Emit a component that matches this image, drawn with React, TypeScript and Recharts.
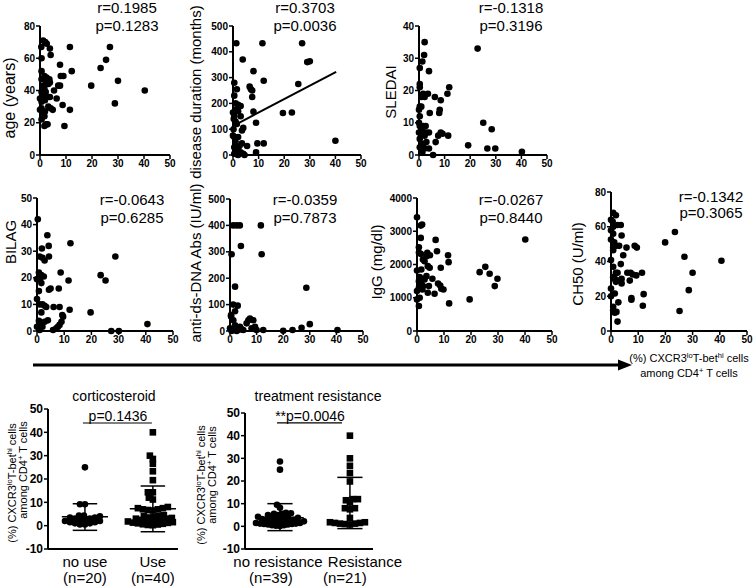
import React from 'react';
import { ScatterChart, Scatter, XAxis, YAxis, ReferenceLine } from 'recharts';

const FONT = "'Liberation Sans', Arial, Helvetica, sans-serif";

const xTicks = [0, 10, 20, 30, 40, 50];

// x = (%) CXCR3lo T-bethi cells among CD4+ T cells, y = clinical value
const agePts: [number, number][] = [
  [0.5, 67], [1.2, 71], [2, 70], [2.6, 69], [3.8, 66], [4.1, 62], [0.6, 60], [7.7, 56], [11.5, 67], [12.2, 52],
  [8, 49], [9, 49], [0.6, 52], [0.6, 47], [1.7, 49], [2.5, 48], [3.6, 47], [3.8, 45], [3.2, 44], [2.5, 45],
  [7, 43], [7.7, 43], [5.4, 40], [1.3, 43], [1.7, 41], [0.6, 39], [2.2, 39], [1.3, 36], [0, 35], [2.5, 36],
  [3.8, 36], [6.4, 35], [1.9, 34], [0.6, 33], [3.2, 30], [4.1, 29], [4.9, 28], [8.7, 31], [0.6, 29], [1.9, 27],
  [11.5, 28], [0, 28], [1.3, 26], [1.7, 24], [0.6, 22], [2.3, 19], [2.9, 19], [1.7, 18], [9.4, 18], [19.7, 43],
  [23.3, 54], [25.4, 59], [26.9, 67], [30, 46], [28.8, 32], [40.3, 40],
];

const durationPts: [number, number][] = [
  [1.3, 433], [11.5, 433], [27, 433], [3.8, 370], [29, 360], [30, 363], [8, 325], [12, 288], [1.5, 255], [0.5, 280],
  [6.5, 265], [7, 255], [7.5, 250], [7.5, 225], [25.5, 275], [0.5, 230], [1, 200], [2, 195], [3, 190], [1, 175],
  [0, 165], [2, 170], [8, 168], [19.5, 163], [23, 165], [0.5, 150], [3, 150], [0.3, 140], [1, 130], [9, 125],
  [1.5, 120], [4, 105], [3.5, 95], [0, 75], [0.5, 70], [2, 70], [1, 50], [3.5, 45], [5.5, 35], [9.5, 45],
  [12, 45], [40, 55], [0.5, 30], [2, 30], [1, 20], [1.5, 15], [3, 10], [4, 5], [9, 10], [0.5, 5],
  [1.5, 3], [2, 0], [4.5, 0], [0.2, 100], [2.5, 35],
];
const durationTrend = [{ x: 0.5, y: 115 }, { x: 40.3, y: 322 }];

const sledaiPts: [number, number][] = [
  [2.2, 35], [2, 31], [1.3, 29], [0.3, 27], [3.9, 26], [22.9, 33], [0.3, 22], [0.3, 21], [11.8, 21], [11.1, 19],
  [3.5, 19], [1.6, 19], [0.9, 18], [2.2, 18], [6.2, 18], [8.5, 17], [0.3, 15], [0.9, 15], [8.1, 14], [7.9, 13],
  [4.2, 13], [0, 14], [0.3, 12], [0, 10], [25.1, 10], [28.4, 8], [0.3, 9], [1.6, 9], [2.6, 9], [1.3, 8],
  [0, 7], [2.9, 7], [3.9, 7], [0.9, 6.6], [2.2, 6], [8.5, 7], [9.2, 6.6], [7.5, 6], [11.4, 6], [0.3, 5],
  [6.5, 4], [2.9, 4], [1.6, 3.4], [0.3, 2.4], [2.2, 2], [3.9, 2], [19.2, 3], [26.7, 2], [29.8, 2], [40.2, 1],
  [5.5, 0], [1.3, 0.8],
];

const bilagPts: [number, number][] = [
  [0.3, 42], [3.8, 36], [1.8, 31], [4.3, 32], [12.3, 33], [1, 28], [2, 27.5], [2.8, 26.5], [4.4, 28], [0.7, 22],
  [8.7, 22], [11.6, 19], [23.4, 21], [25.2, 19], [28.8, 28], [1.6, 21], [2.5, 20.5], [1, 19.5], [0, 19.5], [1.6, 18],
  [4.4, 15.5], [5, 16], [8, 16], [0.7, 15], [0, 12], [2, 10], [2.8, 9.5], [3.4, 9], [6.1, 9], [8.3, 9],
  [1, 10], [1.6, 7], [12, 8], [9.3, 6], [19.7, 7], [0.7, 3.8], [1.6, 3], [2.8, 3.5], [4, 4], [2, 1.6],
  [0, 1.6], [5.9, 0.4], [7.1, 1], [7.7, 1.6], [8.3, 2.3], [9, 3.5], [9.6, 5.4], [27.3, 0], [30.1, 0], [40.6, 2.6],
  [1, 0.4],
];

const dnaPts: [number, number][] = [
  [1.2, 400], [2.5, 400], [3.7, 400], [11.6, 400], [4.1, 322], [0.6, 291], [11.9, 291], [1.9, 168], [28.7, 164], [1.2, 100],
  [2.9, 96], [1.9, 75], [0.4, 55], [0.4, 60], [1.25, 41], [1.9, 22], [0, 10], [3, 4], [3.75, 16], [6.25, 29],
  [6.9, 41], [7.5, 47], [8.75, 41], [9.4, 16], [5, 4], [8.1, 10], [12.5, 4], [20, 1], [23.5, 4], [26.9, 12],
  [30, 26], [40.4, 4], [1.25, 6], [0.6, 0], [2.5, 0], [4.4, 6], [10, 4],
];

const iggPts: [number, number][] = [
  [0, 3420], [1.4, 3170], [1.9, 3200], [1.4, 2800], [6.9, 2740], [40.1, 2750], [0.7, 2520], [1.4, 2320], [0.7, 2350], [3.8, 2350],
  [3.5, 2250], [4.8, 2280], [7.4, 2400], [11.5, 2280], [11.7, 2070], [2.2, 2150], [2.8, 2100], [4, 1950], [4.7, 1900], [8.8, 1900],
  [0, 1820], [1.6, 1850], [23.2, 1770], [25.3, 1930], [26.9, 1720], [29.8, 1570], [28.8, 1350], [1, 1620], [2.2, 1570], [3.5, 1650],
  [5.7, 1570], [0.7, 1500], [1.6, 1420], [2.8, 1550], [7.8, 1430], [8.6, 1370], [9, 1270], [9.8, 1250], [0.7, 1300], [2, 1250],
  [4, 1150], [6.5, 1120], [1, 1000], [0, 950], [19.5, 950], [11.9, 830], [0.7, 750], [2.2, 1350], [0, 1200], [4.4, 1350],
];

const ch50Pts: [number, number][] = [
  [0.8, 68], [1.8, 66.6], [0, 64], [0.6, 63], [2.4, 61], [3.6, 61], [0.8, 60], [0, 58], [0.8, 56], [3.9, 55],
  [0, 52.6], [1.2, 51], [0.8, 48], [1.8, 49], [5.7, 48], [8.7, 49], [9.5, 48], [3, 49], [0.8, 46.5], [4.5, 43.6],
  [19.9, 51], [23.5, 57], [27, 42.7], [40.6, 40.4], [0, 40.8], [3.6, 38.5], [0.8, 37], [1.8, 33.5], [2.4, 33.5], [6, 33.5],
  [7.2, 33.5], [11.4, 33.5], [8, 32.5], [9.3, 32], [30, 33.5], [0.8, 31], [1.4, 30], [3.9, 30], [3, 29], [6.9, 29],
  [3.9, 27.4], [1.8, 28.3], [0, 24.5], [28.6, 23.5], [1.4, 21.6], [12, 21.2], [0, 20], [7.5, 19], [7.5, 18], [11.7, 14.5],
  [2.7, 16.5], [0.8, 12], [1.4, 10.5], [2, 11], [25.2, 11.5], [2.4, 5.4], [0.8, 14],
];

// corticosteroid groups
const noUseVals = [25, 9.2, 9.2, 4.3, 4.3, 4, 3.5, 3.5, 3, 3, 2.5, 2.5, 2, 2, 1.5, 1.5, 1, 1, 0.5, 0.5];
const useVals = [
  40, 30, 28.6, 26.5, 23.3, 19.5, 14.3, 14.3, 12, 11.2, 8, 7.5, 7.5, 7, 7, 6.7, 6.5, 4.5, 4.2, 4,
  3.8, 3.5, 3.3, 3, 3, 2.7, 2.5, 2.3, 2, 2, 1.8, 1.5, 1.3, 1.2, 1, 0.8, 0.6, 0.5, 0.3, 0.2,
];
const steroidStats = [
  { mean: 3.8, lo: -2, hi: 9.4 },
  { mean: 7.2, lo: -2.6, hi: 17 },
];

// treatment resistance groups
const noResVals = [
  28.6, 25, 9.5, 8.2, 6, 5.8, 5.5, 5.5, 5, 5, 4.5, 4.2, 4, 4, 3.8, 3.5, 3.5, 3.2, 3, 3,
  2.8, 2.5, 2.5, 2.2, 2, 2, 1.8, 1.5, 1.5, 1.2, 1.2, 1, 1, 0.8, 0.8, 0.5, 0.5, 0.3, 0.2,
];
const resVals = [40, 30, 26.7, 23.5, 19.8, 12, 12, 11.5, 10.5, 8, 8, 7.5, 3.7, 1.8, 1.8, 1.5, 1.5, 1.2, 1.2, 1, 0.8];
const resistStats = [
  { mean: 3.8, lo: -1.9, hi: 10 },
  { mean: 10.3, lo: -1, hi: 21.6 },
];

const dotTicks = [-10, 0, 10, 20, 30, 40, 50];

const Dot = (p: any) => <circle cx={p.cx} cy={p.cy} r={3.3} fill="#000" />;
const Sq = (p: any) => <rect x={p.cx - 3.3} y={p.cy - 3.3} width={6.6} height={6.6} fill="#000" />;

// column scatter layout: each point goes to the nearest free spot beside the column centre
function swarm(values: number[], center: number, pxPerY: number, pxPerX: number, gap: number) {
  const sorted = [...values].sort((a, b) => a - b);
  const placed: { px: number; py: number }[] = [];
  return sorted.map((v) => {
    const py = v * pxPerY;
    let best = 0;
    for (let k = 0; k < 400; k++) {
      const off = k === 0 ? 0 : k % 2 ? -(k + 1) / 2 : k / 2;
      if (placed.every((p) => (p.px - off) ** 2 + (p.py - py) ** 2 >= gap * gap)) {
        best = off;
        break;
      }
    }
    placed.push({ px: best, py });
    return { x: center + best / pxPerX, y: v };
  });
}

const axisProps = {
  axisLine: { stroke: '#000', strokeWidth: 2 },
  tickLine: { stroke: '#000', strokeWidth: 1.5 },
  tickSize: 4,
  interval: 0 as const,
};

function ScatterPanel({ pts, x0, x1, yTop, yBot, yTicks, trend }: any) {
  const data = pts.map(([x, y]: [number, number]) => ({ x, y }));
  const padL = 40, padT = 8, padR = 10, padB = 20;
  return (
    <div style={{ position: 'absolute', left: x0 - padL, top: yTop - padT }}>
      <ScatterChart
        width={x1 - x0 + padL + padR}
        height={yBot - yTop + padT + padB}
        margin={{ top: padT, right: padR, bottom: 0, left: 0 }}
      >
        <XAxis
          type="number" dataKey="x" domain={[0, 50]} ticks={xTicks} height={padB}
          tick={{ fontSize: 10, fontWeight: 'bold', fill: '#000', fontFamily: FONT }}
          tickMargin={1} {...axisProps}
        />
        <YAxis
          type="number" dataKey="y" domain={[yTicks[0], yTicks[yTicks.length - 1]]} ticks={yTicks} width={padL}
          tick={{ fontSize: 10, fontWeight: 'bold', fill: '#000', fontFamily: FONT }}
          tickMargin={1} {...axisProps}
        />
        <Scatter data={data} shape={Dot} isAnimationActive={false} />
        {trend && <ReferenceLine segment={trend} stroke="#000" strokeWidth={2} />}
      </ScatterChart>
    </div>
  );
}

function GroupPanel({ x0, x1, yTop, yBot, xDomain, groups, stats, labels, sig }: any) {
  const padL = 40, padT = 8, padB = 40, padR = 50;
  const catTick = (p: any) => {
    const lab = labels[p.payload.value - 1];
    return (
      <text x={p.x + lab.dx} y={p.y} textAnchor="middle" fontSize={15} fontFamily={FONT} fill="#000">
        <tspan x={p.x + lab.dx} dy={18}>{lab.name}</tspan>
        <tspan x={p.x + lab.ndx} dy={16}>{lab.n}</tspan>
      </text>
    );
  };
  return (
    <div style={{ position: 'absolute', left: x0 - padL, top: yTop - padT }}>
      <ScatterChart
        width={x1 - x0 + padL + padR}
        height={yBot - yTop + padT + padB}
        margin={{ top: padT, right: padR, bottom: 0, left: 0 }}
      >
        <XAxis
          type="number" dataKey="x" domain={xDomain} ticks={[1, 2]} height={padB}
          tick={catTick} tickLine={false} tickSize={0} tickMargin={0} interval={0}
          axisLine={{ stroke: '#000', strokeWidth: 2 }}
        />
        <YAxis
          type="number" dataKey="y" domain={[-10, 50]} ticks={dotTicks} width={padL}
          tick={{ fontSize: 12, fontWeight: 'bold', fill: '#000', fontFamily: FONT }}
          tickMargin={1} {...axisProps}
        />
        {groups.map((g: any, i: number) => (
          <Scatter key={i} data={g.data} shape={g.shape} isAnimationActive={false} />
        ))}
        {stats.map((s: any, i: number) => {
          const c = i + 1;
          return (
            <React.Fragment key={'s' + i}>
              <ReferenceLine segment={[{ x: c - 0.34, y: s.mean }, { x: c + 0.34, y: s.mean }]} stroke="#000" strokeWidth={1.5} />
              <ReferenceLine segment={[{ x: c, y: s.lo }, { x: c, y: s.hi }]} stroke="#000" strokeWidth={1.5} />
              <ReferenceLine segment={[{ x: c - 0.18, y: s.hi }, { x: c + 0.18, y: s.hi }]} stroke="#000" strokeWidth={1.5} />
              <ReferenceLine segment={[{ x: c - 0.18, y: s.lo }, { x: c + 0.18, y: s.lo }]} stroke="#000" strokeWidth={1.5} />
            </React.Fragment>
          );
        })}
        <ReferenceLine segment={[{ x: sig.x1, y: sig.y }, { x: sig.x2, y: sig.y }]} stroke="#000" strokeWidth={1.2} />
      </ScatterChart>
    </div>
  );
}

const VText = ({ x, y, size = 15, children }: any) => (
  <text transform={`translate(${x},${y}) rotate(-90)`} textAnchor="middle" fontSize={size} fontFamily={FONT} fill="#000">
    {children}
  </text>
);

const Sup = ({ children }: any) => (
  <tspan baselineShift="super" fontSize={7.5}>{children}</tspan>
);

const T = ({ x, y, size = 15, children }: any) => (
  <text x={x} y={y} textAnchor="middle" fontSize={size} fontFamily={FONT} fill="#000">{children}</text>
);

export default function App() {
  return (
    <div style={{ position: 'absolute', left: 0, top: 0, width: 756, height: 588, background: '#fff', fontFamily: FONT }}>
      <ScatterPanel pts={agePts} x0={40} x1={170} yTop={26} yBot={155} yTicks={[0, 20, 40, 60, 80]} />
      <ScatterPanel pts={durationPts} x0={233} x1={361} yTop={26} yBot={155} yTicks={[0, 100, 200, 300, 400, 500]} trend={durationTrend} />
      <ScatterPanel pts={sledaiPts} x0={419} x1={547} yTop={26} yBot={155} yTicks={[0, 10, 20, 30, 40]} />

      <ScatterPanel pts={bilagPts} x0={37} x1={173} yTop={198} yBot={331} yTicks={[0, 10, 20, 30, 40, 50]} />
      <ScatterPanel pts={dnaPts} x0={230} x1={363} yTop={199} yBot={331} yTicks={[0, 100, 200, 300, 400, 500]} />
      <ScatterPanel pts={iggPts} x0={417} x1={552} yTop={198} yBot={331} yTicks={[0, 1000, 2000, 3000, 4000]} />
      <ScatterPanel pts={ch50Pts} x0={611} x1={747} yTop={192} yBot={331} yTicks={[0, 20, 40, 60, 80]} />

      <GroupPanel
        x0={48} x1={178} yTop={409} yBot={549} xDomain={[0.456, 2.37]}
        groups={[
          { data: swarm(noUseVals, 1, 2.333, 68, 4.3), shape: Dot },
          { data: swarm(useVals, 2, 2.333, 68, 4.3), shape: Sq },
        ]}
        stats={steroidStats}
        labels={[{ name: 'no use', n: '(n=20)', dx: 0, ndx: 0 }, { name: 'Use', n: '(n=40)', dx: 0, ndx: 0 }]}
        sig={{ x1: 0.97, x2: 1.985, y: 44 }}
      />
      <GroupPanel
        x0={245} x1={373} yTop={413} yBot={549} xDomain={[0.5, 2.33]}
        groups={[
          { data: swarm(noResVals, 1, 2.267, 70, 3.8), shape: Dot },
          { data: swarm(resVals, 2, 2.267, 70, 4.3), shape: Sq },
        ]}
        stats={resistStats}
        labels={[{ name: 'no resistance', n: '(n=39)', dx: -2, ndx: -9 }, { name: 'Resistance', n: '(n=21)', dx: 15, ndx: -5 }]}
        sig={{ x1: 0.957, x2: 1.886, y: 45.6 }}
      />

      <svg width={756} height={588} style={{ position: 'absolute', left: 0, top: 0, pointerEvents: 'none' }}>
        <T x={127} y={13}>r=0.1985</T>
        <T x={127} y={31}>p=0.1283</T>
        <T x={305} y={13}>r=0.3703</T>
        <T x={305} y={31}>p=0.0036</T>
        <T x={511} y={13}>r=-0.1318</T>
        <T x={511} y={31}>p=0.3196</T>
        <T x={132} y={205}>r=-0.0643</T>
        <T x={132} y={223}>p=0.6285</T>
        <T x={305} y={205}>r=-0.0359</T>
        <T x={305} y={223}>p=0.7873</T>
        <T x={511} y={205}>r=-0.0267</T>
        <T x={511} y={223}>p=0.8440</T>
        <T x={711} y={202}>r=-0.1342</T>
        <T x={711} y={218}>p=0.3065</T>

        <VText x={15} y={98} size={16}>age (years)</VText>
        <VText x={201} y={92}>disease duration (months)</VText>
        <VText x={396} y={92}>SLEDAI</VText>
        <VText x={16} y={242}>BILAG</VText>
        <VText x={201} y={263}>anti-ds-DNA Abs (IU/ml)</VText>
        <VText x={382} y={262}>IgG (mg/dl)</VText>
        <VText x={583} y={264}>CH50 (U/ml)</VText>

        <line x1={33} y1={365} x2={620} y2={365} stroke="#000" strokeWidth={3} />
        <polygon points="618,359.5 632,365 618,370.5" fill="#000" />
        <T x={689} y={362} size={11}>(%) CXCR3<Sup>lo</Sup>T-bet<Sup>hi</Sup> cells</T>
        <T x={689} y={377} size={11}>among CD4<Sup>+</Sup> T cells</T>

        <T x={114} y={401} size={14}>corticosteroid</T>
        <T x={118} y={421} size={14}>p=0.1436</T>
        <T x={318} y={401} size={14}>treatment resistance</T>
        <T x={310} y={421} size={14}>**p=0.0046</T>

        <VText x={16} y={483} size={11}>(%) CXCR3<Sup>lo</Sup>T-bet<Sup>hi</Sup> cells</VText>
        <VText x={27} y={470} size={11}>among CD4<Sup>+</Sup> T cells</VText>
        <VText x={205} y={485} size={11}>(%) CXCR3<Sup>lo</Sup>T-bet<Sup>hi</Sup> cells</VText>
        <VText x={216} y={475} size={11}>among CD4<Sup>+</Sup> T cells</VText>
      </svg>
    </div>
  );
}
